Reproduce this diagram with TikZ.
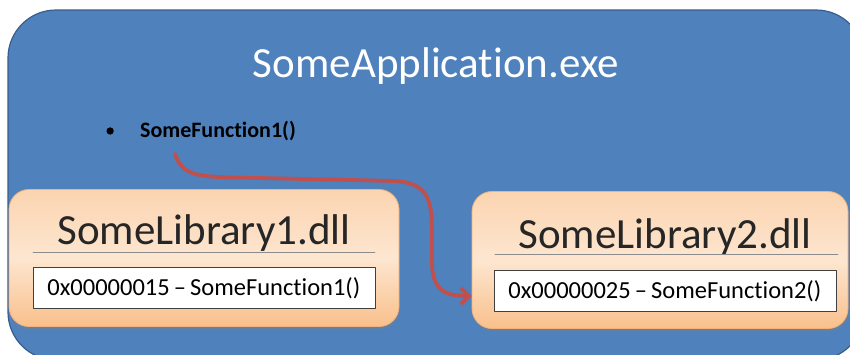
\documentclass[tikz,border=0pt]{standalone}
\usepackage{fontspec}
\setmainfont{Carlito}[Ligatures={NoCommon}]
\usetikzlibrary{arrows.meta,shadows,positioning}
\definecolor{appblue}{HTML}{4F81BD}
\definecolor{appedge}{HTML}{385D8A}
\definecolor{libtop}{HTML}{FBD4B0}
\definecolor{libmid}{HTML}{FDE6D0}
\definecolor{libbot}{HTML}{F9C08C}
\definecolor{libedge}{HTML}{F2B27A}
\definecolor{callred}{HTML}{C0504D}
\begin{document}
\begin{tikzpicture}[x=1pt, y=-1pt, line join=round, line cap=round,
  appbox/.style={draw=appedge, line width=1.2pt, fill=appblue, rounded corners=48pt},
  libbox/.style={draw=libedge, line width=0.8pt, rounded corners=20pt,
    top color=libtop, bottom color=libbot, middle color=libmid,
    minimum width=390, minimum height=137,
    drop shadow={shadow xshift=1pt, shadow yshift=-3pt, opacity=0.35}},
  libtitle/.style={text=black!85, font=\fontsize{43}{46}\selectfont, inner sep=0pt},
  sepline/.style={draw=black!45, line width=0.8pt},
  addrbox/.style={draw=black!75, line width=0.8pt, fill=white, text width=314pt,
    align=left, inner xsep=14pt, minimum height=41, font=\fontsize{24.5}{27}\selectfont},
  callarrow/.style={draw=callred, line width=3.8pt, -{Straight Barb[length=8pt, width=16pt, line width=3.8pt]}}]
  \useasboundingbox (0,0) rectangle (850,354);
  % the application
  \begin{scope}
    \clip (0,0) rectangle (850,354);
    \path[appbox] (8,10) rectangle (864,360);
  \end{scope}
  \node[text=white, font=\fontsize{43}{46}\selectfont, inner sep=0pt] (app) at (436,66) {SomeApplication.exe};
  \node[font=\fontsize{22}{24}\bfseries\selectfont, anchor=west, inner sep=0pt] (fn) at (140,131) {SomeFunction1()};
  \node[circle, fill=black, inner sep=2.6pt, left=26pt of fn] (dot) {};
  % the libraries
  \node[libbox] (lib1) at (204,258) {};
  \node[libbox, minimum width=376] (lib2) at (660,260) {};
  \node[libtitle] (t1) at (204,233) {SomeLibrary1.dll};
  \node[libtitle] (t2) at (665,237) {SomeLibrary2.dll};
  \draw[sepline] (33,252) -- (375,252);
  \draw[sepline] (495,254) -- (838,254);
  \node[addrbox, anchor=north west] (a1) at (33,267) {0x00000015\,–\,SomeFunction1()};
  \node[addrbox, anchor=north west] (a2) at (494,270) {0x00000025\,–\,SomeFunction2()};
  % the call
  \coordinate (from) at ([xshift=35pt, yshift=-13pt]fn.south west);
  \coordinate (to) at ([yshift=-36pt]lib2.west);
  \draw[callarrow] (from) .. controls (183,178) and (200,177) .. (260,178)
    -- (395,181) .. controls (428,183) and (432,200) .. (432,232)
    -- (432,262) .. controls (432,290) and (445,296) .. (to);
\end{tikzpicture}
\end{document}
